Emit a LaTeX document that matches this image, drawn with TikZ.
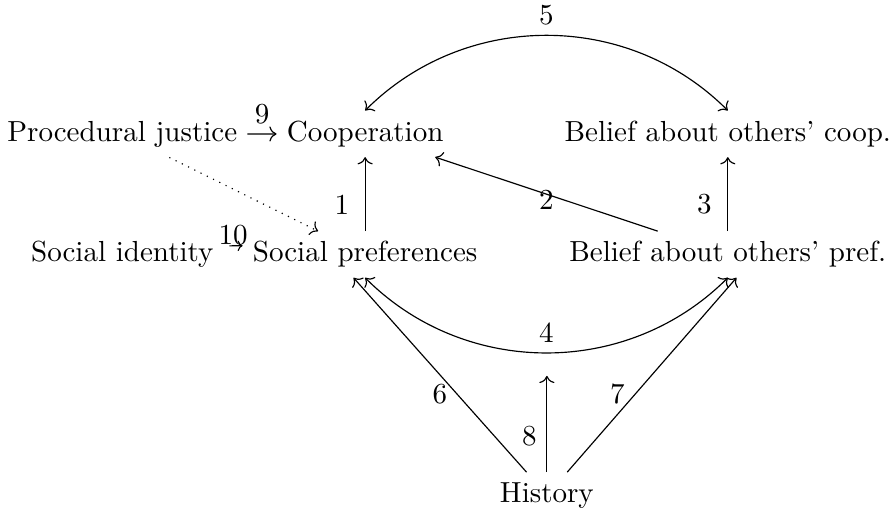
\documentclass[tikz,border=0pt]{standalone}
\usepackage{amsmath,amssymb}
\usepackage{tikz}
\usetikzlibrary{arrows.meta}

\begin{document}
\begin{tikzpicture}[every node/.style={anchor=base}]
  \useasboundingbox (0,0) rectangle (10.81,6.18);
  \node (pj) at (1.48,4.47) {Procedural justice};
  \node (co) at (4.42,4.47) {Cooperation};
  \node (bc) at (8.81,4.47) {Belief about others' coop.};
  \node (si) at (1.48,3.01) {Social identity};
  \node (sp) at (4.42,3.01) {Social preferences};
  \node (bp) at (8.81,3.01) {Belief about others' pref.};
  \coordinate (h4) at (6.62,1.63);
  \node (hi) at (6.62,0.10) {History};
  \draw[->] (pj) -- node[above] {9} (co);
  \draw[-{To[scale=.7]}, shorten <=2pt] ([yshift=3pt]si.east) -- node[above, inner sep=0pt] {10} ([yshift=3pt]sp.west);
  \draw[->, dotted] (pj) -- (sp);
  \draw[->] (sp) -- node[left=2pt, pos=.36] {1} (co);
  \draw[->] (bp) -- node[below=-1.4pt, inner sep=0pt] {2} (co);
  \draw[->] (bp) -- node[left=2pt, pos=.37] {3} (bc);
  \draw[<->] (sp.south) to[bend right=45] node[above] {4} (bp.south);
  \draw[<->] (co.north) to[bend left=45] node[above] {5} (bc.north);
  \draw[->] ([xshift=-7pt]hi.north) -- node[left, pos=.4] {6} ([xshift=-4pt]sp.south);
  \draw[->] ([xshift=7pt]hi.north) -- node[left, pos=.4] {7} ([xshift=3pt]bp.south);
  \draw[->] (hi) -- node[left, pos=.37] {8} (h4);
\end{tikzpicture}
\end{document}
